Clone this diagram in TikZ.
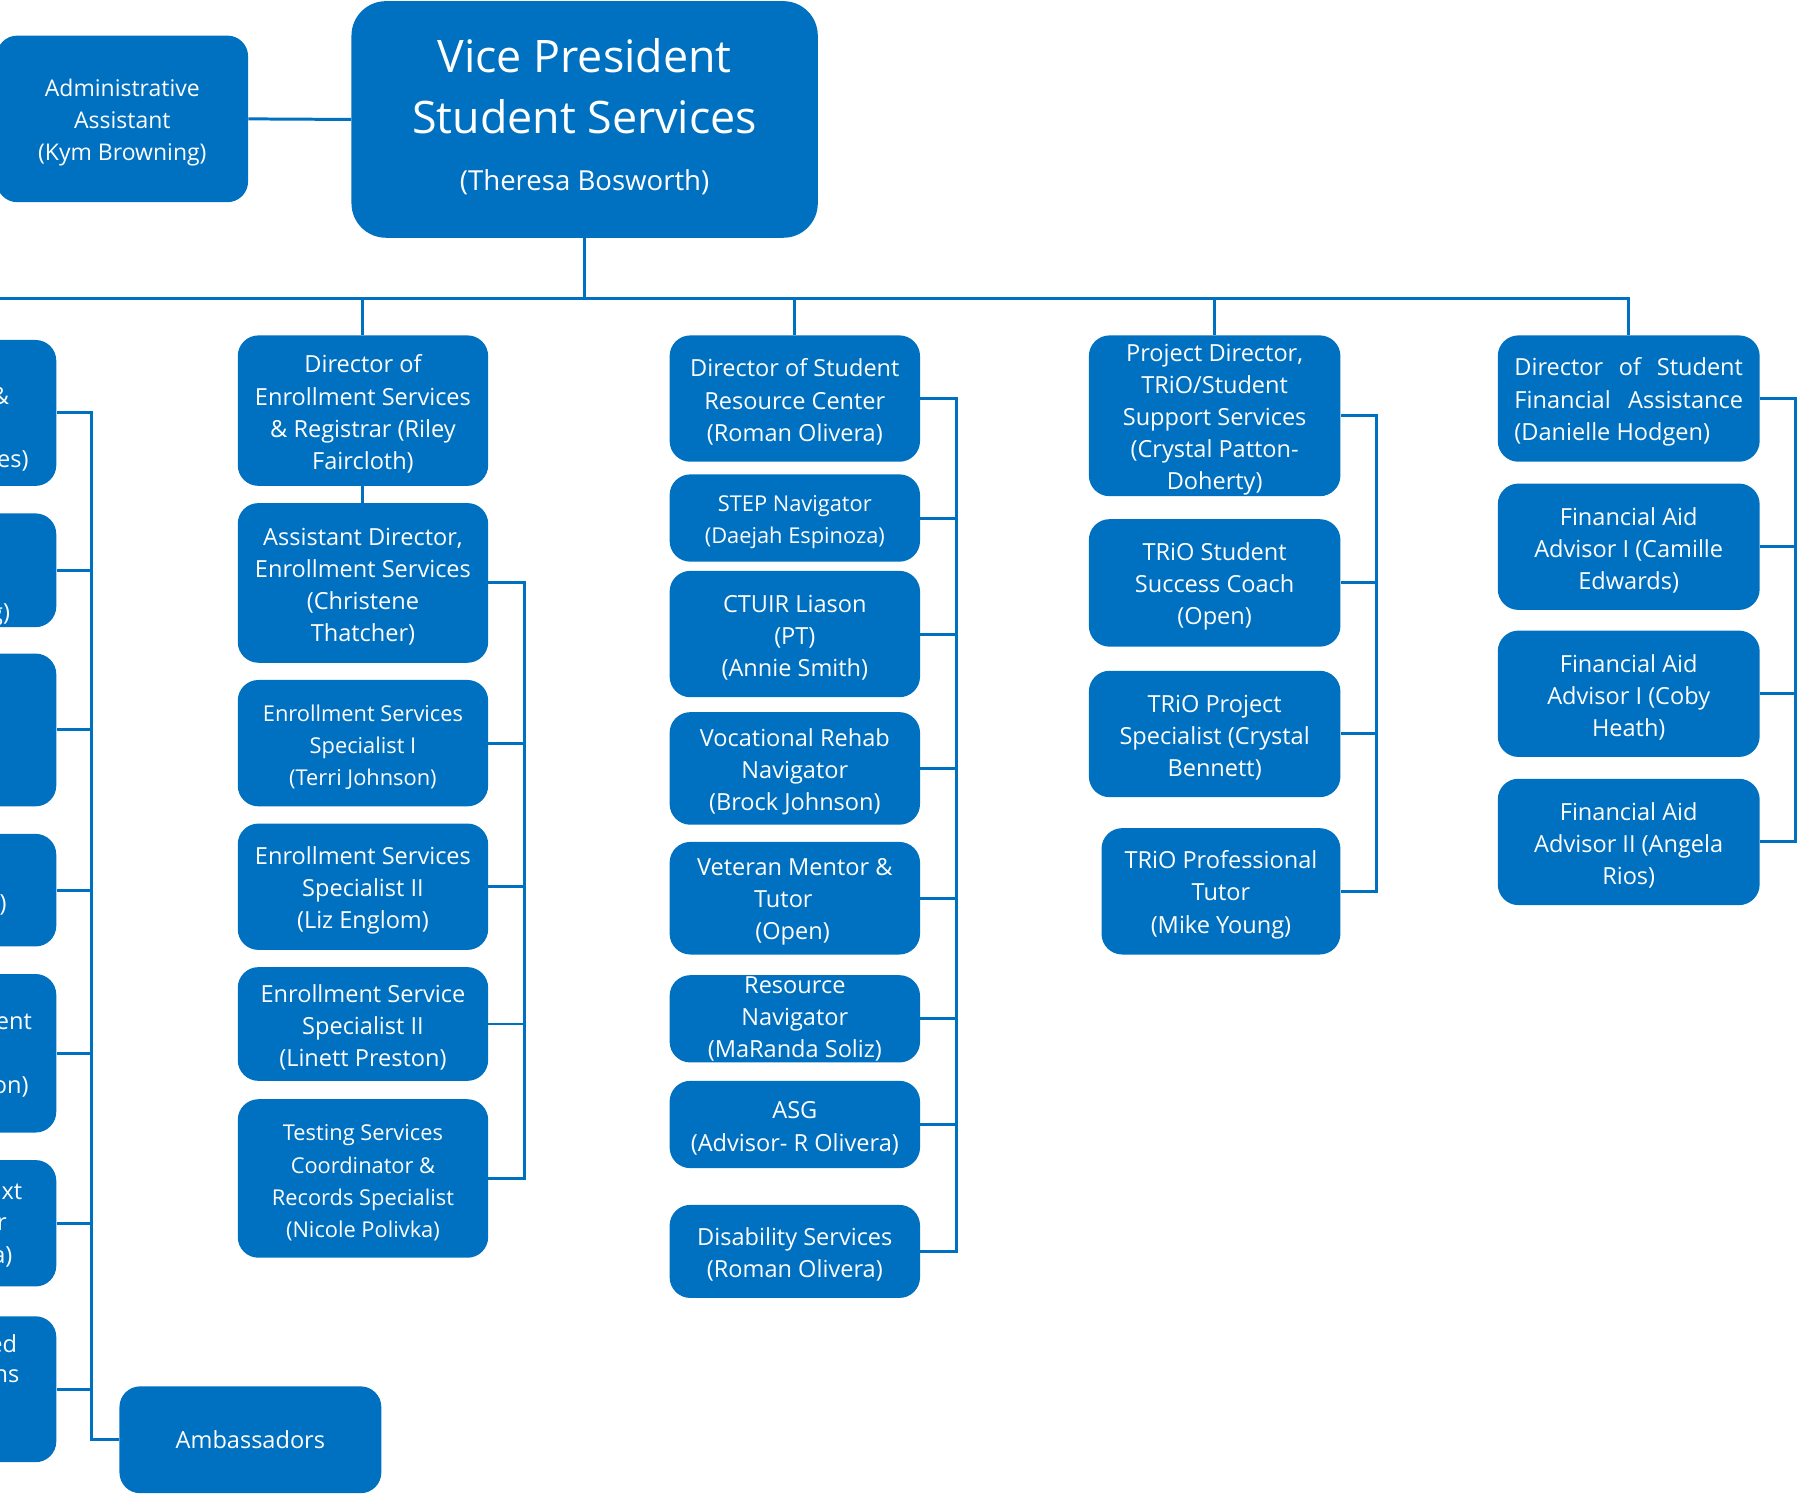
\documentclass[tikz,border=0pt]{standalone}
\usepackage{fontspec}
\setmainfont{Open Sans}
\definecolor{bl}{RGB}{0,112,192}
\newcommand{\st}{\rule{0pt}{21.5pt}}
\tikzset{
  box/.style={rectangle, rounded corners=18pt, fill=bl, text=white, inner sep=0pt, align=center, font=\fontsize{20.5}{28}\selectfont},
  smalltext/.style={font=\fontsize{19}{28}\selectfont},
  conn/.style={draw=bl, line width=2.6pt},
  frag/.style={text=white, inner sep=0pt, font=\fontsize{20.5}{28}\selectfont, anchor=east},
}
\begin{document}
\begin{tikzpicture}[x=1pt,y=-1pt]
\clip (0,0) rectangle (1568,1302);
% top
\node[box, minimum width=219pt, minimum height=145pt, font=\fontsize{20}{28}\selectfont] (admin) at (106.5,103.5) {\st Administrative\\Assistant\\(Kym Browning)};
\node[box, rounded corners=30pt, minimum width=406pt, minimum height=206pt, font=\fontsize{39}{53}\selectfont, execute at end node={\rule[-9pt]{0pt}{0pt}}] (vp) at (509,104) {Vice President\\Student Services\\[-3.5pt]{\fontsize{24}{30}\selectfont (Theresa Bosworth)}};
% left column (cut off)
\node[box, minimum width=109pt, minimum height=127pt] (l1) at (-5.5,359.5) {};
\node[box, minimum width=109pt, minimum height=99pt] (l2) at (-5.5,496.5) {};
\node[box, minimum width=109pt, minimum height=133pt] (l3) at (-5.5,635.5) {};
\node[box, minimum width=109pt, minimum height=98pt] (l4) at (-5.5,775) {};
\node[box, minimum width=109pt, minimum height=138pt] (l5) at (-5.5,917) {};
\node[box, minimum width=109pt, minimum height=110pt] (l6) at (-5.5,1065) {};
\node[box, minimum width=109pt, minimum height=127pt] (l7) at (-5.5,1209.5) {};
\node[frag] (f1a) at (8,345) {\&};
\node[frag] (f1b) at (25,401) {es)};
\node[frag] (f2a) at (9,535) {g)};
\node[frag] (f4a) at (6,788) {)};
\node[frag] (f5a) at (28,890) {ent};
\node[frag] (f5b) at (25,946) {on)};
\node[frag] (f6a) at (19.5,1038) {xt};
\node[frag] (f6b) at (6,1066) {r};
\node[frag] (f6c) at (11,1094) {a)};
\node[frag] (f7a) at (15,1170) {ed};
\node[frag] (f7b) at (17,1198) {ns};
\node[box, minimum width=228pt, minimum height=93pt] (amb) at (218,1253.5) {Ambassadors};
% column 2
\node[box, minimum width=218pt, minimum height=131pt] (dirEnr) at (316,357.5) {\st Director of\\Enrollment Services\\\& Registrar (Riley\\Faircloth)};
\node[box, minimum width=218pt, minimum height=139pt] (asst) at (316,507.5) {\st Assistant Director,\\Enrollment Services\\(Christene\\Thatcher)};
\node[box, smalltext, minimum width=218pt, minimum height=110pt] (ess1) at (316,647) {\st Enrollment Services\\Specialist I\\(Terri Johnson)};
\node[box, minimum width=218pt, minimum height=110pt] (ess2) at (316,772) {\st Enrollment Services\\Specialist II\\(Liz Englom)};
\node[box, minimum width=218pt, minimum height=99pt] (ess3) at (316,891.5) {\st Enrollment Service\\Specialist II\\(Linett Preston)};
\node[box, smalltext, minimum width=218pt, minimum height=138pt] (test) at (316,1026) {\st Testing Services\\Coordinator \&\\Records Specialist\\(Nicole Polivka)};
% column 3
\node[box, minimum width=218pt, minimum height=110pt] (dsrc) at (692,347) {\st Director of Student\\Resource Center\\(Roman Olivera)};
\node[box, smalltext, minimum width=218pt, minimum height=76pt] (step) at (692,451) {\st STEP Navigator\\(Daejah Espinoza)};
\node[box, minimum width=218pt, minimum height=110pt] (ctuir) at (692,552) {\st CTUIR Liason\\(PT)\\(Annie Smith)};
\node[box, minimum width=218pt, minimum height=98pt] (voc) at (692,669) {\st Vocational Rehab\\Navigator\\(Brock Johnson)};
\node[box, minimum width=218pt, minimum height=98pt] (vet) at (692,782) {\st Veteran Mentor \&\\Tutor\rule{20pt}{0pt}\\(Open)\rule{4pt}{0pt}};
\node[box, minimum width=218pt, minimum height=76pt] (resnav) at (692,887) {Resource\\Navigator\\(MaRanda Soliz)};
\node[box, minimum width=218pt, minimum height=76pt] (asg) at (692,979) {\st ASG\\(Advisor- R Olivera)};
\node[box, minimum width=218pt, minimum height=81pt] (dis) at (692,1089.5) {\st Disability Services\\(Roman Olivera)};
% column 4
\node[box, minimum width=219pt, minimum height=140pt] (pd) at (1057.5,362) {\st Project Director,\\TRiO/Student\\Support Services\\(Crystal Patton-\\Doherty)};
\node[box, minimum width=219pt, minimum height=111pt] (tssc) at (1057.5,507.5) {\st TRiO Student\\Success Coach\\(Open)};
\node[box, minimum width=219pt, minimum height=110pt] (tps) at (1057.5,639) {\st TRiO Project\\Specialist (Crystal\\Bennett)};
\node[box, minimum width=208pt, minimum height=110pt] (tpt) at (1063,776) {\st TRiO Professional\\Tutor\\(Mike Young)};
% column 5
\node[box, align=left, minimum width=228pt, minimum height=110pt] (dsfa) at (1418,347) {\st\makebox[199pt][s]{Director of Student}\\\makebox[199pt][s]{Financial Assistance}\\(Danielle Hodgen)};
\node[box, minimum width=228pt, minimum height=110pt] (fa1) at (1418,476) {\st Financial Aid\\Advisor I (Camille\\Edwards)};
\node[box, minimum width=228pt, minimum height=110pt] (fa2) at (1418,604) {\st Financial Aid\\Advisor I (Coby\\Heath)};
\node[box, minimum width=228pt, minimum height=110pt] (fa3) at (1418,733) {\st Financial Aid\\Advisor II (Angela\\Rios)};
% connectors
\coordinate (busy) at (0,260);
\coordinate (busend) at (-5,260);
\coordinate (bL) at (80,0);
\coordinate (b2) at (457,0);
\coordinate (b3) at (833,0);
\coordinate (b4) at (1198,0);
\coordinate (b5) at (1563,0);
\draw[conn] (admin.east) -- (vp.west);
\draw[conn] (vp.south) -- (vp.south |- busy);
\draw[conn] (dsfa.north) -- (dsfa.north |- busy) -- (busend);
\draw[conn] (dirEnr.north) -- (dirEnr.north |- busy);
\draw[conn] (dsrc.north) -- (dsrc.north |- busy);
\draw[conn] (pd.north) -- (pd.north |- busy);
\draw[conn] (dirEnr.south) -- (asst.north);
\draw[conn] (l1.east) -- (l1.east -| bL) -- (amb.west -| bL) -- (amb.west);
\foreach \n in {l2,l3,l4,l5,l6,l7} \draw[conn] (\n.east) -- (\n.east -| bL);
\draw[conn] (asst.east) -- (asst.east -| b2) -- (test.east -| b2) -- (test.east);
\foreach \n in {ess1,ess2,ess3} \draw[conn] (\n.east) -- (\n.east -| b2);
\draw[conn] (dsrc.east) -- (dsrc.east -| b3) -- (dis.east -| b3) -- (dis.east);
\foreach \n in {step,ctuir,voc,vet,resnav,asg} \draw[conn] (\n.east) -- (\n.east -| b3);
\draw[conn] (pd.east) -- (pd.east -| b4) -- (tpt.east -| b4) -- (tpt.east);
\foreach \n in {tssc,tps} \draw[conn] (\n.east) -- (\n.east -| b4);
\draw[conn] (dsfa.east) -- (dsfa.east -| b5) -- (fa3.east -| b5) -- (fa3.east);
\foreach \n in {fa1,fa2} \draw[conn] (\n.east) -- (\n.east -| b5);
\end{tikzpicture}
\end{document}
